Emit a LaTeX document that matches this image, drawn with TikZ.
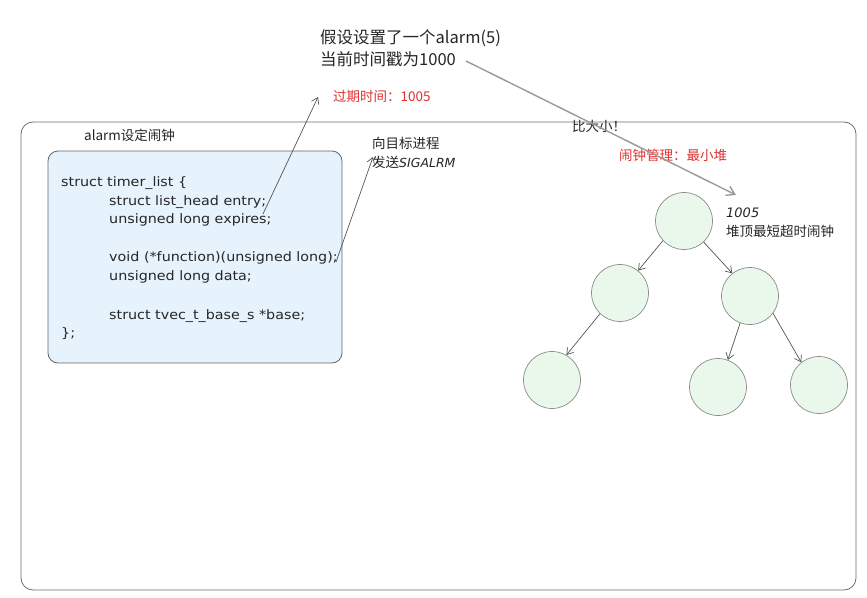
\documentclass[tikz,border=0pt]{standalone}
\usepackage{fontspec}
\setmainfont{Noto Sans CJK SC}
\newfontfamily\codefont[FakeStretch=1.1]{DejaVu Sans}
\newfontfamily\latinit{DejaVu Sans}
\usetikzlibrary{arrows.meta}
\definecolor{frameC}{HTML}{6E6E6E}
\definecolor{redC}{HTML}{E03131}
\definecolor{blueF}{HTML}{E6F2FC}
\definecolor{greenF}{HTML}{EAF8EC}
\definecolor{lineC}{HTML}{555555}
\definecolor{longC}{HTML}{9A9A9A}
\tikzset{
  txt/.style={anchor=west,inner sep=0pt,font=\fontsize{13.5}{16}\selectfont,text=black!85},
  bigtxt/.style={anchor=west,inner sep=0pt,font=\fontsize{16.5}{20}\selectfont,text=black!85},
  redtxt/.style={txt,text=redC},
  codetxt/.style={anchor=west,inner sep=0pt,font=\codefont\fontsize{13}{15}\selectfont,text=black!85},
  heap/.style={circle,draw=black!45,fill=greenF,minimum size=57pt,inner sep=0pt,line width=0.7pt},
  arr/.style={draw=lineC,line width=0.7pt,-{Straight Barb[length=6pt,width=8pt]}},
  longarr/.style={draw=longC,line width=1.4pt,-{Straight Barb[length=8pt,width=10pt]}}
}
\begin{document}
\begin{tikzpicture}[x=1pt,y=-1pt]
\useasboundingbox (0,0) rectangle (867,597);
\fill[white] (0,0) rectangle (867,597);
% outer frame
\draw[frameC,line width=0.8pt,rounded corners=12pt] (21,122) rectangle (856,590);
% blue code box
\draw[black!60,fill=blueF,line width=0.8pt,rounded corners=10pt] (48,151) rectangle (342,363);
\node[txt] (lbl) at (84,135) {alarm设定闹钟};
% code
\node[codetxt] (c1) at (61,183) {struct timer\_list \{};
\node[codetxt] (c2) at (109,202) {struct list\_head entry;};
\node[codetxt] (c3) at (109,220) {unsigned long expires;};
\node[codetxt] (c4) at (109,258) {void (*function)(unsigned long);};
\node[codetxt] (c5) at (109,277) {unsigned long data;};
\node[codetxt] (c6) at (109,316) {struct tvec\_t\_base\_s *base;};
\node[codetxt] (c7) at (61,334) {\};};
% top texts
\node[bigtxt] (t1) at (320,38) {假设设置了一个alarm(5)};
\node[bigtxt] (t2) at (320,59) {当前时间戳为1000};
\node[redtxt] (t3) at (333,96) {过期时间：1005};
\node[txt] (t4) at (372,143) {向目标进程};
\node[txt] (t5) at (372,162) {发送{\latinit\itshape\fontsize{12.5}{15}\selectfont SIGALRM}};
\node[txt] (t6) at (572,126) {比大小！};
\node[redtxt] (t7) at (619,155) {闹钟管理：最小堆};
\node[txt] (t8) at (726,213) {{\latinit\itshape\fontsize{13}{15}\selectfont 1005}};
\node[txt] (t9) at (726,231) {堆顶最短超时闹钟};
% heap
\node[heap] (root) at (684,221) {};
\node[heap] (L) at (620,293) {};
\node[heap] (R) at (750,296) {};
\node[heap] (LL) at (552,380) {};
\node[heap] (RL) at (718,387) {};
\node[heap] (RR) at (819,385) {};
\draw[arr] (root.223) -- (L.51);
\draw[arr] (root.313) -- (R.128);
\draw[arr] (L.226) -- (LL.60);
\draw[arr] (R.250) -- (RL.70);
\draw[arr] (R.323) -- (RR.128);
% other connectors
\coordinate (a1s) at (263,214);
\coordinate (a1e) at (318,97);
\coordinate (a2s) at (336,262);
\coordinate (a2e) at (373,157);
\coordinate (a3s) at (466,61);
\coordinate (a3e) at (736,195);
\draw[arr] (a1s) -- (a1e);
\draw[arr] (a2s) -- (a2e);
\draw[longarr] (a3s) -- (a3e);
\end{tikzpicture}
\end{document}
